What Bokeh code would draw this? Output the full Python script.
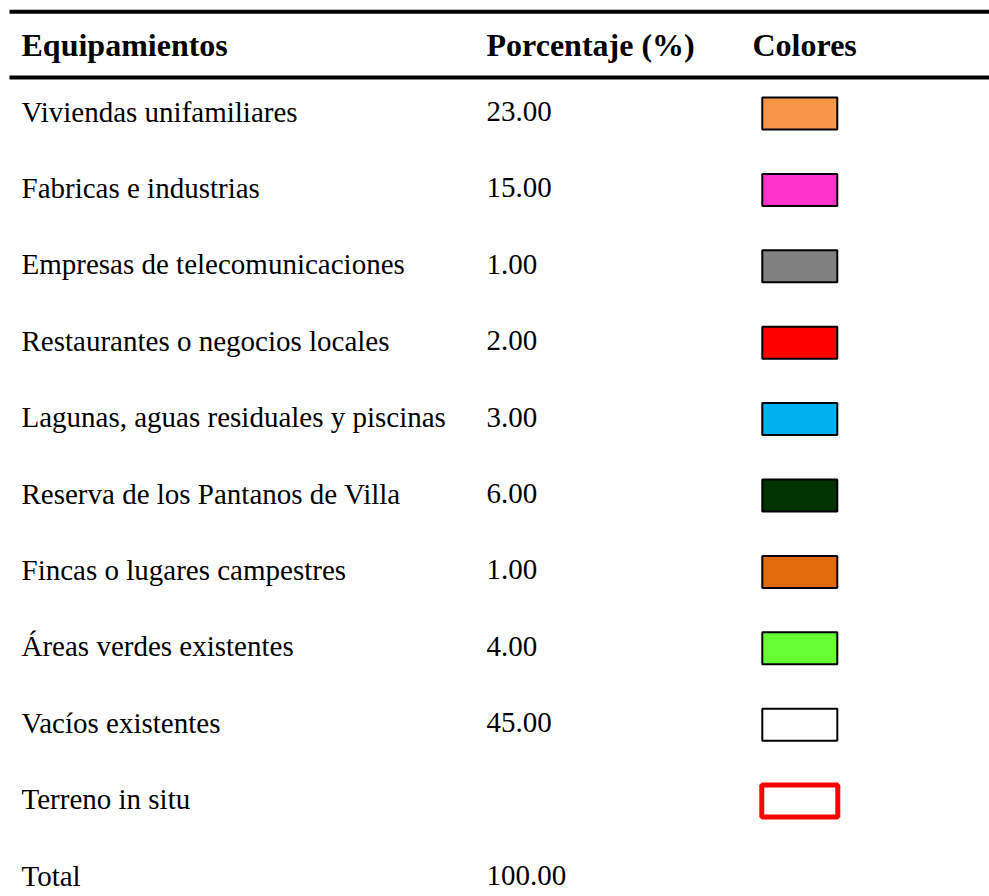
from bokeh.plotting import figure
from bokeh.models import Range1d, ColumnDataSource
from bokeh.core.properties import value
from bokeh.embed import file_html
from bokeh.resources import INLINE

# ---- data ----
headers = ["Equipamientos", "Porcentaje (%)", "Colores"]
equipamientos = [
    "Viviendas unifamiliares",
    "Fabricas e industrias",
    "Empresas de telecomunicaciones",
    "Restaurantes o negocios locales",
    "Lagunas, aguas residuales y piscinas",
    "Reserva de los Pantanos de Villa",
    "Fincas o lugares campestres",
    "Áreas verdes  existentes",
    "Vacíos existentes",
    "Terreno in situ",
]
porcentajes = [23.00, 15.00, 1.00, 2.00, 3.00, 6.00, 1.00, 4.00, 45.00, None]
colores = ["#F79646", "#FF33CC", "#808080", "#FF0000", "#00B0F0",
           "#003300", "#E36C0A", "#66FF33", "#FFFFFF", "#FFFFFF"]
bordes = ["#000000"] * 9 + ["#FF0000"]
total_label = "Total"
total_value = 100.00

# ---- layout (page pixel coordinates) ----
W, H = 989, 896
x_col1, x_col2, x_col3 = 21, 486, 752
row0_base, row_step = 121, 76.4
text_shift = 10      # renderer places the alphabetic baseline lower than asked
header_base = 55 - 11
font = value("Liberation Serif")

p = figure(width=W, height=H, output_backend="svg", toolbar_location=None,
           x_range=Range1d(0, W), y_range=Range1d(H, 0),
           min_border=0, outline_line_color=None)
p.axis.visible = False
p.grid.visible = False
p.background_fill_color = "white"
p.border_fill_color = "white"

# rules
p.segment(x0=[9, 9], x1=[989, 989], y0=[11.3, 77], y1=[11.3, 77],
          line_color="black", line_width=4)

# header
p.text(x=[x_col1, x_col2, x_col3], y=[header_base] * 3, text=headers,
       text_font=font, text_font_size="32px", text_font_style="bold",
       text_baseline="alphabetic", text_align="left", text_color="black")

n = len(equipamientos)
ys = [row0_base + i * row_step for i in range(n)]
pct_txt = ["" if v is None else f"{v:.2f}" for v in porcentajes]

src = ColumnDataSource(dict(yt=[y - text_shift for y in ys], name=equipamientos,
                            pct=pct_txt, ysw=[y - 8 for y in ys], fill=colores,
                            line=bordes, lw=[2] * 9 + [5], w=[75] * 9 + [76]))

p.text(x=x_col1, y="yt", text="name", source=src, text_font=font,
       text_font_size="29px", text_baseline="alphabetic", text_color="black")
p.text(x=x_col2, y="yt", text="pct", source=src, text_font=font,
       text_font_size="29px", text_baseline="alphabetic", text_color="black")
p.rect(x=799.3, y="ysw", width="w", height=32, source=src,
       fill_color="fill", line_color="line", line_width="lw",
       width_units="screen", height_units="screen")

y_total = row0_base + n * row_step - text_shift
p.text(x=[x_col1, x_col2], y=[y_total, y_total],
       text=[total_label, f"{total_value:.2f}"], text_font=font,
       text_font_size="29px", text_baseline="alphabetic", text_color="black")

open("out.html", "w").write(file_html(p, INLINE))
